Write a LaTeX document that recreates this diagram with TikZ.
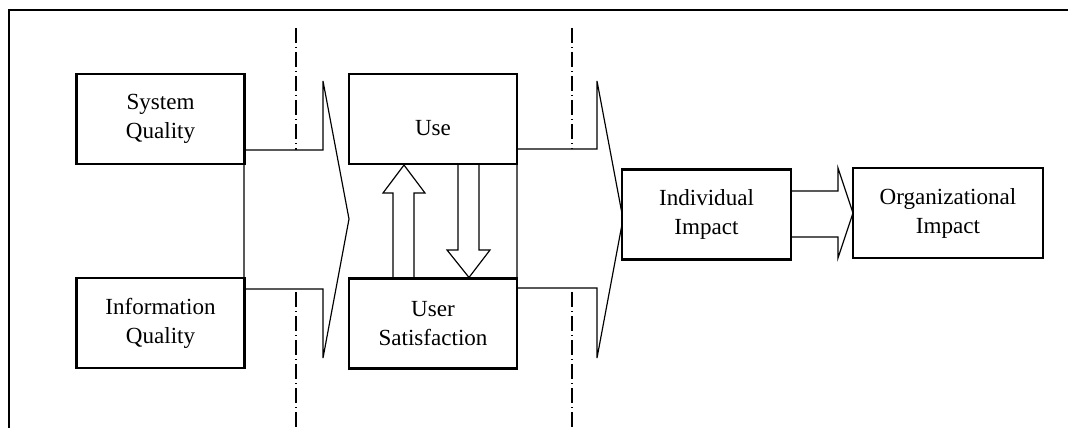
\documentclass[tikz,border=0pt]{standalone}
\usepackage{fontspec}
\setmainfont{Liberation Serif}
\usetikzlibrary{positioning}

\begin{document}
\begin{tikzpicture}[x=0.03cm, y=-0.03cm,
		box/.style={draw, line width=1.8pt, fill=white, align=center, minimum width=5.04cm, minimum height=2.7cm, font=\fontsize{19.7}{24.7}\selectfont},
		flow/.style={draw, line width=1.0pt, fill=white, line join=miter},
		phase/.style={line width=1.0pt, dash pattern=on 0.45cm off 0.12cm on 0.03cm off 0.12cm}]
		\clip (0,0) rectangle (1068,428);
		% frame
		\draw[line width=1.3pt] (9,440) -- (9,10) -- (1080,10);
		% phase borders
		\draw[phase] (296,28) -- (296,440);
		\draw[phase] (572,28) -- (572,440);
		% big arrows
		\draw[flow] (244,150) -- (323,150) -- (323,81) -- (349,219) -- (323,358) -- (323,289) -- (244,289) -- cycle;
		\draw[flow] (517,149) -- (597,149) -- (597,81) -- (623,219) -- (597,358) -- (597,288) -- (517,288) -- cycle;
		\draw[flow] (791,191) -- (838,191) -- (838,168) -- (853,213) -- (838,258) -- (838,237) -- (791,237) -- cycle;
		% boxes
		\node[box] (sq) at (160.5,119) {System\\Quality};
		\node[box] (iq) at (160.5,323) {Information\\Quality};
		\node[box, text height=1.0cm, text depth=0cm] (use) at (433,119) {Use};
		\node[box] (us) at (433,323.5) {User\\Satisfaction};
		\node[box, minimum width=5.07cm] (ii) at (706.5,214.5) {Individual\\Impact};
		\node[box, minimum width=5.7cm] (oi) at (948,213) {Organizational\\Impact};
		% use <-> satisfaction
		\draw[flow, fill=none] (us.north -| 393,0) -- (393,193) -- (383,193) -- (use.south -| 404,0) -- (425,193) -- (414,193) -- (us.north -| 414,0);
		\draw[flow, fill=none] (use.south -| 458,0) -- (458,250) -- (447,250) -- (us.north -| 469,0) -- (490,250) -- (479,250) -- (use.south -| 479,0);
\end{tikzpicture}
\end{document}
